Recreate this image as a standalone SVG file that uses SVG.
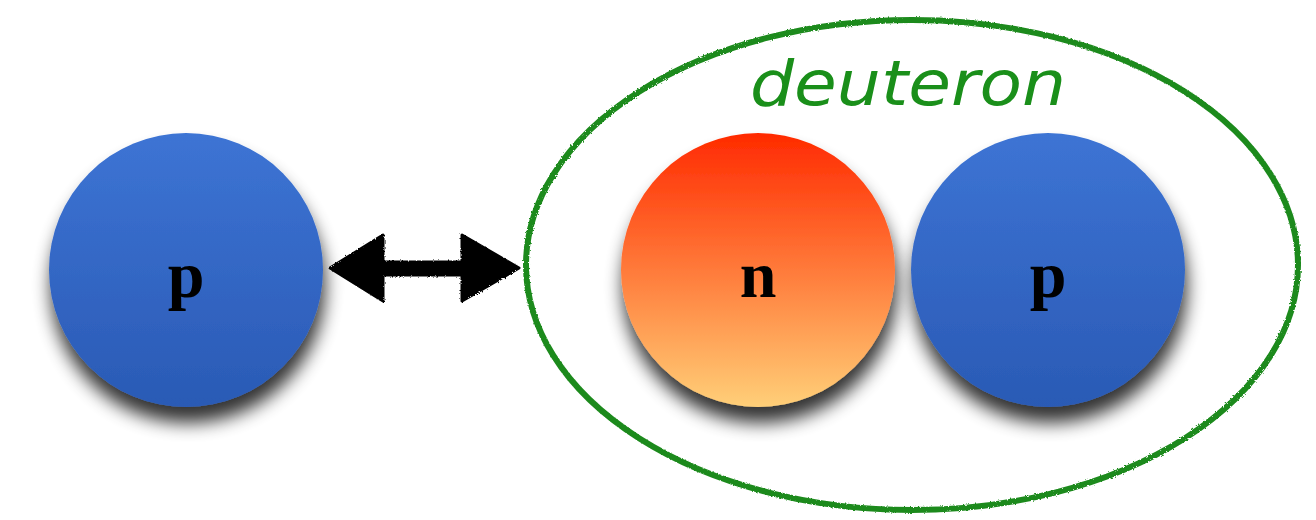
<svg xmlns="http://www.w3.org/2000/svg" width="1316" height="520" viewBox="0 0 1316 520">
<defs>
<linearGradient id="gBlue" x1="0" y1="0" x2="0" y2="1"><stop offset="0" stop-color="#3d74d4"/><stop offset="1" stop-color="#2a5ab5"/></linearGradient>
<linearGradient id="gOrange" x1="0" y1="0" x2="0" y2="1"><stop offset="0" stop-color="#ff2a00"/><stop offset="0.5" stop-color="#ff7a3a"/><stop offset="1" stop-color="#ffcf78"/></linearGradient>
<filter id="shadow" x="-30%" y="-30%" width="160%" height="170%"><feGaussianBlur in="SourceAlpha" stdDeviation="9"/><feOffset dx="2" dy="16" result="b"/><feComponentTransfer><feFuncA type="linear" slope="0.8"/></feComponentTransfer><feMerge><feMergeNode/><feMergeNode in="SourceGraphic"/></feMerge></filter>
<filter id="rough"><feTurbulence type="fractalNoise" baseFrequency="0.6" numOctaves="2" result="n"/><feDisplacementMap in="SourceGraphic" in2="n" scale="3"/></filter>
</defs>
<style>
.lbl{font-family:"Liberation Serif","DejaVu Serif",serif;font-size:66px;font-weight:bold;fill:#000;text-anchor:middle}
.title{font-family:"DejaVu Sans","Liberation Sans",sans-serif;font-style:italic;font-size:62px;fill:#1a8f1a;text-anchor:middle}
</style>
<rect width="1316" height="520" fill="#fff"/>
<g id="deuteron">
<ellipse cx="912" cy="265" rx="386" ry="245" fill="none" stroke="#1e8a1e" stroke-width="6" filter="url(#rough)"/>
<text class="title" x="908" y="105" textLength="316" lengthAdjust="spacingAndGlyphs">deuteron</text>
</g>
<g id="proton1">
<circle cx="186" cy="270" r="137" fill="url(#gBlue)" filter="url(#shadow)"/>
<text class="lbl" x="186" y="297">p</text>
</g>
<g id="neutron">
<circle cx="758" cy="270" r="137" fill="url(#gOrange)" filter="url(#shadow)"/>
<text class="lbl" x="758" y="297">n</text>
</g>
<g id="proton2">
<circle cx="1048" cy="270" r="137" fill="url(#gBlue)" filter="url(#shadow)"/>
<text class="lbl" x="1048" y="297">p</text>
</g>
<g id="connectors" filter="url(#rough)">
<path d="M330 268 L383 235 L383 262 L462 262 L462 235 L519 268 L462 301 L462 275 L383 275 L383 301 Z" fill="#000" stroke="#000" stroke-width="3" stroke-linejoin="round"/>
</g>
</svg>
